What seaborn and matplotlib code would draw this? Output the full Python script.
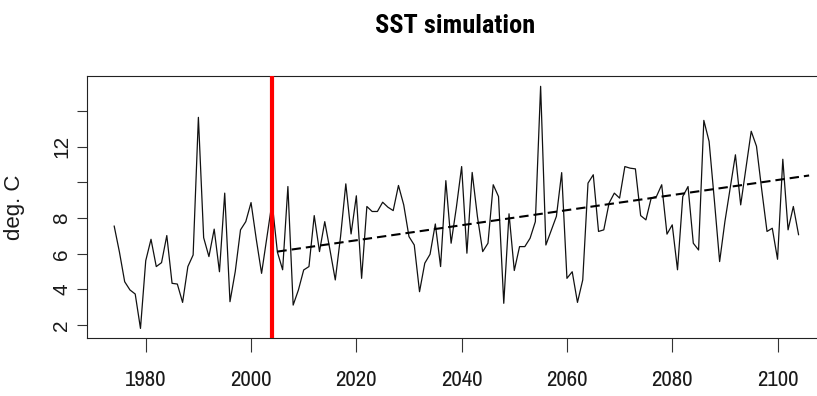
import matplotlib
matplotlib.use("Agg")
import matplotlib.pyplot as plt
from matplotlib import font_manager
import pandas as pd
import seaborn as sns

# Simulated annual sea surface temperature (deg. C)
years = list(range(1974, 2105))
sst = [
    7.56, 6.10, 4.43, 3.97, 3.74, 1.81, 5.61, 6.81, 5.28, 5.50,   # 1974-1983
    7.02, 4.34, 4.30, 3.27, 5.28, 5.93, 13.65, 6.90, 5.84, 7.38,  # 1984-1993
    4.99, 9.40, 3.31, 5.00, 7.34, 7.80, 8.87, 6.80, 4.90, 6.90,   # 1994-2003
    8.90, 6.10, 5.10, 9.77, 3.12, 3.97, 5.09, 5.28, 8.14, 6.12,   # 2004-2013
    7.80, 6.20, 4.53, 6.96, 9.92, 7.11, 9.25, 4.62, 8.65, 8.37,   # 2014-2023
    8.37, 8.89, 8.61, 8.42, 9.83, 8.74, 6.96, 6.49, 3.87, 5.47,   # 2024-2033
    5.97, 7.67, 5.28, 10.10, 6.59, 8.60, 10.89, 6.03, 10.56, 8.08,  # 2034-2043
    6.12, 6.59, 9.87, 9.21, 3.22, 8.24, 5.06, 6.40, 6.40, 6.87,   # 2044-2053
    7.80, 15.39, 6.49, 7.30, 8.10, 10.55, 4.62, 4.99, 3.27, 4.53,  # 2054-2063
    9.96, 10.43, 7.25, 7.34, 8.84, 9.40, 9.12, 10.89, 10.80, 10.76,  # 2064-2073
    8.14, 7.90, 9.12, 9.21, 9.87, 7.10, 7.62, 5.10, 9.21, 9.77,   # 2074-2083
    6.59, 6.21, 13.48, 12.30, 9.00, 5.56, 7.80, 9.68, 11.55, 8.74,  # 2084-2093
    10.80, 12.87, 12.03, 9.58, 7.25, 7.43, 5.69, 11.30, 7.34, 8.65,  # 2094-2103
    7.06,                                                          # 2104
]

# Start of the projection period and the fitted linear trend over it
split_year = 2004
trend_years = [2005, 2106]
trend_sst = [6.12, 10.39]

x_ticks = [1980, 2000, 2020, 2040, 2060, 2080, 2100]
y_ticks = [2, 4, 6, 8, 10, 12, 14]
y_tick_labels = ["2", "4", "6", "8", "", "12", ""]
title = "SST simulation"
y_label = "deg. C"

sns.set_theme(style="ticks")
fonts = font_manager.fontManager.ttflist
installed = {f.name for f in fonts}
narrow = next((n for n in ("Liberation Sans Narrow", "Arimo Narrow", "Archivo Narrow",
                           "Roboto Condensed") if n in installed), "Liberation Sans")

# A narrow face that really ships a bold weight, for the title
bold_candidates = ("Liberation Sans Narrow", "Arimo Narrow", "Archivo Narrow",
                   "Roboto Condensed", "PT Sans Narrow", "Fira Sans Condensed",
                   "Saira SemiCondensed")
title_font = next((n for n in bold_candidates
                   if any(f.name == n and f.weight >= 700 for f in fonts)), None)
if title_font is None:
    title_font, title_size = "Liberation Sans", 16
else:
    title_size = 19

plt.rcParams["font.family"] = ["Liberation Sans", "DejaVu Sans"]

W, H = 817, 396
fig = plt.figure(figsize=(W / 100, H / 100), dpi=100)
fig.patch.set_facecolor("white")

left_px, bottom_px, top_px = 87.3, 337.7, 76.0
x0, x1 = 1968.9, 2109.0
px_per_year = 5.265
ax = fig.add_axes([left_px / W, (H - bottom_px) / H,
                   (x1 - x0) * px_per_year / W, (bottom_px - top_px) / H])
ax.set_facecolor("white")

df = pd.DataFrame({"year": years, "sst": sst})
sns.lineplot(data=df, x="year", y="sst", ax=ax, color="#111111", linewidth=0.9)
ax.axvline(split_year, color="#ff0000", linewidth=3.0, zorder=3)
trend = pd.DataFrame({"year": trend_years, "sst": trend_sst})
sns.lineplot(data=trend, x="year", y="sst", ax=ax, color="black", linewidth=1.5,
             linestyle=(0, (4.5, 2.4)), zorder=4)

ax.set_xlim(x0, x1)
ax.set_ylim(1.29, 15.97)

ax.set_xticks(x_ticks)
ax.set_xticklabels([str(t) for t in x_ticks], family=[narrow, "DejaVu Sans"],
                   fontsize=16.5, color="#1a1a1a")
ax.set_yticks(y_ticks)
ax.set_yticklabels(y_tick_labels, rotation=90, va="center", fontsize=15,
                   color="#1a1a1a")
ax.tick_params(axis="x", length=10, width=0.8, color="#333333", pad=13, direction="out")
ax.tick_params(axis="y", length=7.2, width=0.8, color="#333333", pad=4.5, direction="out")

for sp in ax.spines.values():
    sp.set_linewidth(0.8)
    sp.set_color("#222222")
    sp.set_visible(True)

ax.set_xlabel("")
ax.set_ylabel(y_label, fontsize=16, color="#1a1a1a")
ax.yaxis.set_label_coords((25.5 - left_px) / ((x1 - x0) * px_per_year), 0.5)

fig.text(455 / W, 1 - 33 / H, title, ha="center", va="baseline",
         family=[title_font, "DejaVu Sans"], fontweight="bold", fontsize=title_size,
         color="black")

fig.savefig("out.png", dpi=100, facecolor="white")
